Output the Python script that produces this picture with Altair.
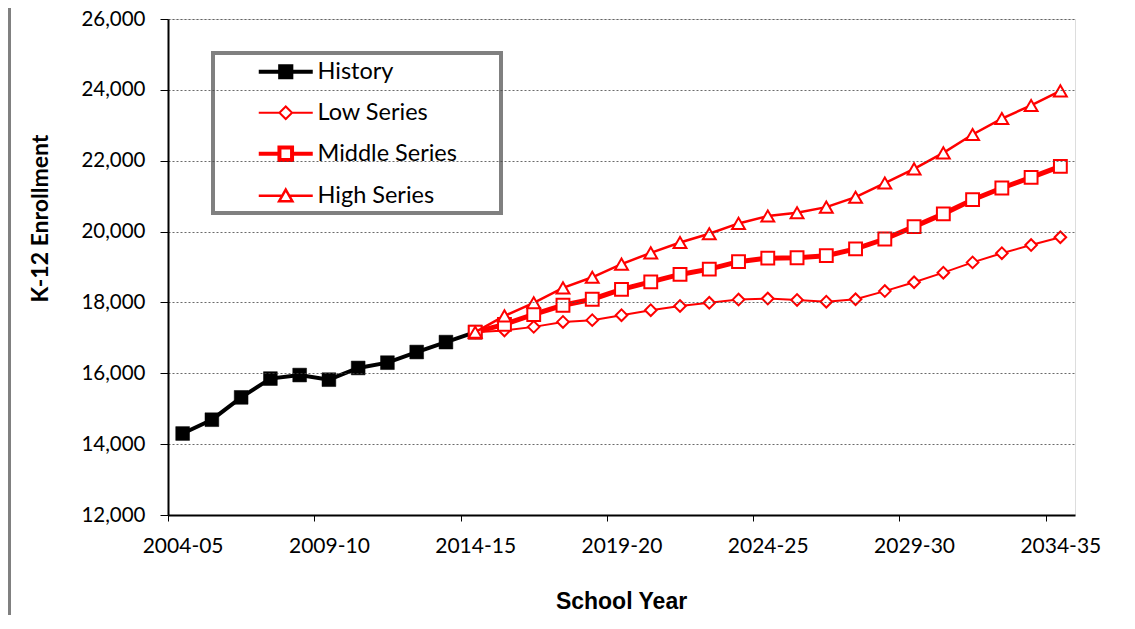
import altair as alt
import pandas as pd

# ---------------- data ----------------
years = ["2004-05", "2005-06", "2006-07", "2007-08", "2008-09", "2009-10", "2010-11",
         "2011-12", "2012-13", "2013-14", "2014-15", "2015-16", "2016-17", "2017-18",
         "2018-19", "2019-20", "2020-21", "2021-22", "2022-23", "2023-24", "2024-25",
         "2025-26", "2026-27", "2027-28", "2028-29", "2029-30", "2030-31", "2031-32",
         "2032-33", "2033-34", "2034-35"]

history_values = [14300, 14690, 15320, 15850, 15950, 15820, 16150, 16300, 16600, 16880, 17160]
low_values = [17160, 17210, 17310, 17450, 17500, 17640, 17780, 17900, 17990, 18080, 18110,
              18070, 18020, 18090, 18320, 18570, 18840, 19130, 19390, 19620, 19840]
middle_values = [17160, 17380, 17660, 17920, 18090, 18370, 18580, 18790, 18940, 19150, 19250,
                 19260, 19320, 19510, 19790, 20140, 20500, 20900, 21230, 21530, 21840]
high_values = [17160, 17620, 17990, 18410, 18710, 19080, 19400, 19690, 19940, 20230, 20440,
               20530, 20690, 20970, 21370, 21770, 22220, 22740, 23190, 23560, 23970]

series_names = ["History", "Low Series", "Middle Series", "High Series"]
history_start = 0
projection_start = 10
y_ticks = [12000, 14000, 16000, 18000, 20000, 22000, 24000, 26000]
x_tick_every = 5


def frame(vals, start):
    return pd.DataFrame({
        "year": years[start:start + len(vals)],
        "pos": [start + i + 0.5 for i in range(len(vals))],
        "value": vals,
    })


RED = "#FF0000"
LABEL_FONT = "Lato"

label_expr = "[" + ",".join("'%s'" % y for y in years) + "][datum.value]"

x_enc = alt.X(
    "pos:Q",
    scale=alt.Scale(domain=[0, len(years)], nice=False, zero=False),
    axis=alt.Axis(
        values=list(range(0, len(years), x_tick_every)),
        labelExpr=label_expr,
        labelOffset=14.6,
        labelFont=LABEL_FONT, labelFontSize=21, labelColor="black",
        labelPadding=14, labelFlush=False, labelOverlap=False,
        tickSize=6, tickColor="black", tickWidth=1,
        domainColor="black", domainWidth=2,
        grid=False,
        title="School Year",
        titleFont="Liberation Sans", titleFontSize=23, titleFontWeight="bold",
        titleColor="black", titleX=453, titleY=86, titleBaseline="middle",
        titleAlign="center", zindex=1,
    ),
)

y_enc = alt.Y(
    "value:Q",
    scale=alt.Scale(domain=[12000, 26000], nice=False, zero=False),
    axis=alt.Axis(
        values=y_ticks, format=",.0f",
        labelFont=LABEL_FONT, labelFontSize=20.5, labelColor="black",
        labelPadding=15,
        tickSize=8, tickColor="black", tickWidth=1,
        domainColor="black", domainWidth=2,
        grid=True, gridColor="#444444", gridDash=[2, 2], gridWidth=0.8,
        title="K-12 Enrollment",
        titleFont=LABEL_FONT, titleFontSize=23, titleFontWeight="bold",
        titleColor="black", titleX=-128, titleY=199, titleAngle=270,
        titleBaseline="middle", titleAlign="center", zindex=1,
    ),
)


def series_layer(vals, start, line_width, line_color, shape, size, fill, stroke, stroke_w):
    return alt.Chart(frame(vals, start)).mark_line(
        color=line_color, strokeWidth=line_width,
        point=alt.OverlayMarkDef(shape=shape, size=size, filled=True, fill=fill,
                                 stroke=stroke, strokeWidth=stroke_w, opacity=1),
    ).encode(x=x_enc, y=y_enc)


history = series_layer(history_values, history_start, 4, "black", "square", 190, "black", "black", 0.5)
low = series_layer(low_values, projection_start, 2, RED, "diamond", 135, "white", RED, 2)
middle = series_layer(middle_values, projection_start, 5, RED, "square", 165, "white", RED, 2)
high = series_layer(high_values, projection_start, 2.5, RED, "triangle-up", 165, "white", RED, 2)

# ---------------- legend ----------------
legend_paths = [
    "M-3,0H-0.6M0.6,0H3M-0.62,-0.62H0.62V0.62H-0.62Z",
    "M-3,0H-0.7M-0.7,0L0,-0.7L0.7,0L0,0.7ZM0.7,0H3",
    "M-3,0H-0.7M0.7,0H3M-0.7,-0.7H0.7V0.7H-0.7Z",
    "M-3,0H-0.38M0.38,0H3M0,-0.68L0.74,0.62H-0.74Z",
]
legend_fill = ["black", "white", "white", "white"]
legend_stroke = ["black", RED, RED, RED]
legend_width = [4, 2, 4, 2.5]

legend_def = alt.Legend(
    orient="none", legendX=90, legendY=41, title=None, padding=0,
    labelFont=LABEL_FONT, labelFontSize=23.5, labelColor="black",
    symbolSize=324, symbolOffset=16, labelOffset=20, rowPadding=14,
    labelLimit=400,
)

legend_layer = alt.Chart(pd.DataFrame({"series": series_names})).transform_filter(
    "false"
).mark_point(filled=True, opacity=1, size=324).encode(
    shape=alt.Shape("series:N", scale=alt.Scale(domain=series_names, range=legend_paths), legend=legend_def),
    fill=alt.Fill("series:N", scale=alt.Scale(domain=series_names, range=legend_fill), legend=legend_def),
    stroke=alt.Stroke("series:N", scale=alt.Scale(domain=series_names, range=legend_stroke), legend=legend_def),
    strokeWidth=alt.StrokeWidth("series:N", scale=alt.Scale(type="ordinal", domain=series_names, range=legend_width), legend=legend_def),
)

legend_box = alt.Chart(pd.DataFrame({"k": [0]})).mark_rect(
    fill="white", stroke="#808080", strokeWidth=4
).encode(x=alt.value(45), x2=alt.value(333), y=alt.value(34), y2=alt.value(194))

outer_border = alt.Chart(pd.DataFrame({"k": [0]})).mark_rule(
    color="#808080", strokeWidth=3
).encode(x=alt.value(-158.5), y=alt.value(-19), y2=alt.value(600))

chart = alt.layer(
    outer_border, history, low, middle, high, legend_box, legend_layer
).properties(
    width=907, height=496,
    padding={"left": 160, "top": 11, "right": 40, "bottom": 100},
    autosize=alt.AutoSizeParams(type="none"),
).configure_view(
    stroke="#808080", strokeWidth=3
).configure(background="white")

chart.save("out.html", embed_options={"renderer": "svg", "actions": False})
